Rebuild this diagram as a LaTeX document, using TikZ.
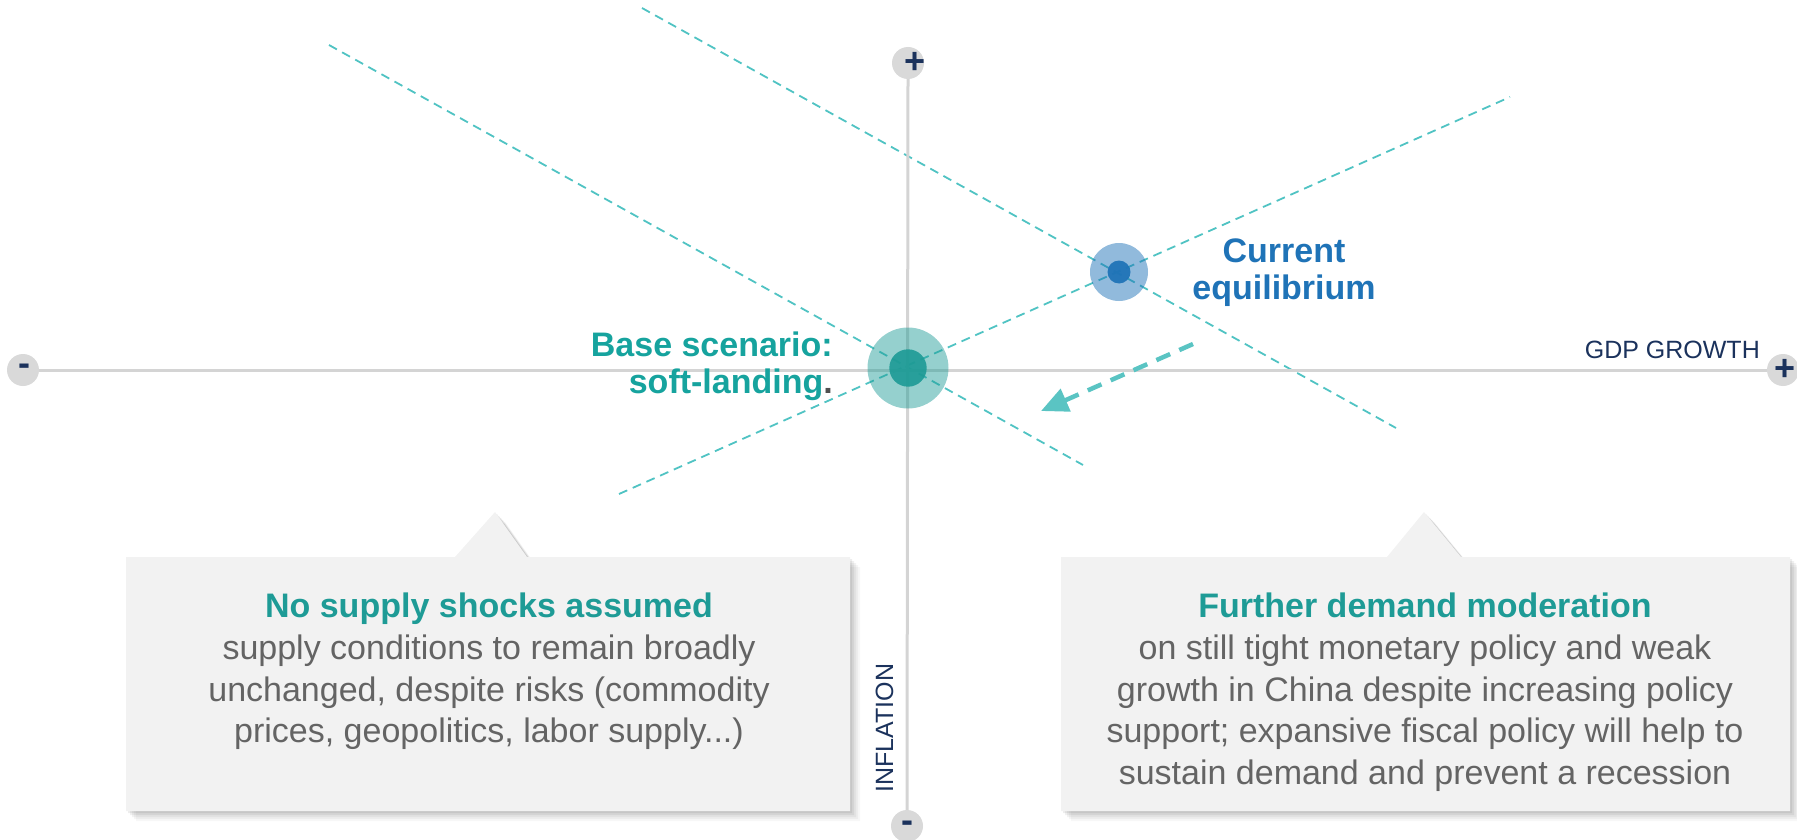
\documentclass[tikz,border=0pt]{standalone}
\usepackage{fontspec}
\setmainfont{Liberation Sans}
\usetikzlibrary{arrows.meta}
\definecolor{dashteal}{RGB}{80,195,195}
\definecolor{arrowteal}{RGB}{90,196,195}
\definecolor{titleteal}{RGB}{30,155,150}
\definecolor{baseteal}{RGB}{22,163,158}
\definecolor{eqblue}{RGB}{31,115,183}
\definecolor{bodygrey}{RGB}{100,100,100}
\definecolor{navy}{RGB}{27,50,92}
\definecolor{axisgrey}{RGB}{212,212,212}
\definecolor{knobgrey}{RGB}{217,217,217}
\definecolor{boxfill}{RGB}{242,242,242}
\definecolor{dotgrey}{RGB}{80,80,80}
\tikzset{
  curve/.style={dashteal, line width=1.8pt, dash pattern=on 9pt off 6pt},
  axisline/.style={axisgrey, line width=3pt},
  knob/.style={circle, fill=knobgrey, minimum size=32pt, inner sep=0pt},
  knobsign/.style={text=navy, font=\fontsize{36}{36}\selectfont\bfseries, inner sep=0pt},
  axislabel/.style={text=navy, font=\fontsize{25}{25}\selectfont, inner sep=0pt},
  boxtext/.style={align=center, inner sep=0pt, text=bodygrey, font=\fontsize{34}{41.6}\selectfont},
  pointlabel/.style={inner sep=0pt, font=\fontsize{34}{37}\selectfont\bfseries},
  boxshape/.style={fill=boxfill},
}
\begin{document}
\begin{tikzpicture}[x=1pt,y=-1pt]
\useasboundingbox (0,0) rectangle (1797,840);

% shadows of callout boxes
\foreach \d/\o in {2/0.07,4/0.06,6/0.05,8/0.04,10/0.03}{
  \fill[black,opacity=\o,shift={(\d,\d)}] (126,557) -- (455,557) -- (495,512) -- (527,557) -- (850,557) -- (850,811) -- (126,811) -- cycle;
  \fill[black,opacity=\o,shift={(\d,\d)}] (1061,557) -- (1387,557) -- (1424,512) -- (1461,557) -- (1790,557) -- (1790,811) -- (1061,811) -- cycle;
}
% callout boxes
\fill[boxshape] (126,557) -- (455,557) -- (495,512) -- (527,557) -- (850,557) -- (850,811) -- (126,811) -- cycle;
\fill[boxshape] (1061,557) -- (1387,557) -- (1424,512) -- (1461,557) -- (1790,557) -- (1790,811) -- (1061,811) -- cycle;

% key points
\coordinate (base) at (908,368);
\coordinate (cur) at (1119,272);

% dashed curves
\coordinate (d1a) at (329,45);
\coordinate (d1b) at (1083,465);
\coordinate (d2a) at (642,8);
\coordinate (d2b) at (1396,428);
\coordinate (s1a) at (619,494);
\coordinate (s1b) at (1510,97);
\draw[curve] (d1a) -- (d1b);
\draw[curve] (d2a) -- (d2b);
\draw[curve] (s1a) -- (s1b);

% axes
\node[knob] (xminus) at (23,370) {};
\node[knob] (xplus) at (1783,370) {};
\node[knob] (yplus) at (908,63) {};
\node[knob] (yminus) at (907,826) {};
\draw[axisline] (xminus.east) -- (xplus.west);
\draw[axisline] (yplus.south) -- (yminus.north);
\node[knobsign] (xminuss) at (24,370) {-};
\node[knobsign] (xpluss) at (1785,370) {+};
\node[knobsign] (ypluss) at (915,63) {+};
\node[knobsign] (yminuss) at (907,827) {-};
\node[axislabel, anchor=base east] (gdp) at (1760,358) {GDP GROWTH};
\node[axislabel, anchor=base, rotate=90] (infl) at (893,728) {INFLATION};

% equilibrium markers
\fill[titleteal, opacity=0.47] (base) circle (40.5);
\fill[titleteal, opacity=0.92] (base) circle (18.7);
\fill[eqblue, opacity=0.49] (cur) circle (29);
\fill[eqblue, opacity=0.95] (cur) circle (11.5);

% shift arrow
\coordinate (arrA) at (1193,344);
\coordinate (arrB) at (1041,411);
\draw[arrowteal, line width=4.5pt, dash pattern=on 15pt off 10pt, -{Triangle[length=27pt,width=24pt]}] (arrA) -- (arrB);

% labels
\node[pointlabel, text=baseteal, align=right, anchor=north east] (baselbl) at (833,332) {Base scenario:\\soft-landing{\color{dotgrey}.}};
\node[pointlabel, text=eqblue, align=center, anchor=north] (curlbl) at (1284,239) {Current\\equilibrium};

% box texts
\node[boxtext, anchor=north] (lefttxt) at (489,593) {{\bfseries\color{titleteal}No supply shocks assumed}\\supply conditions to remain broadly\\unchanged, despite risks (commodity\\prices, geopolitics, labor supply...)};
\node[boxtext, anchor=north] (righttxt) at (1425,593) {{\bfseries\color{titleteal}Further demand moderation}\\on still tight monetary policy and weak\\growth in China despite increasing policy\\support; expansive fiscal policy will help to\\sustain demand and prevent a recession};
\end{tikzpicture}
\end{document}
